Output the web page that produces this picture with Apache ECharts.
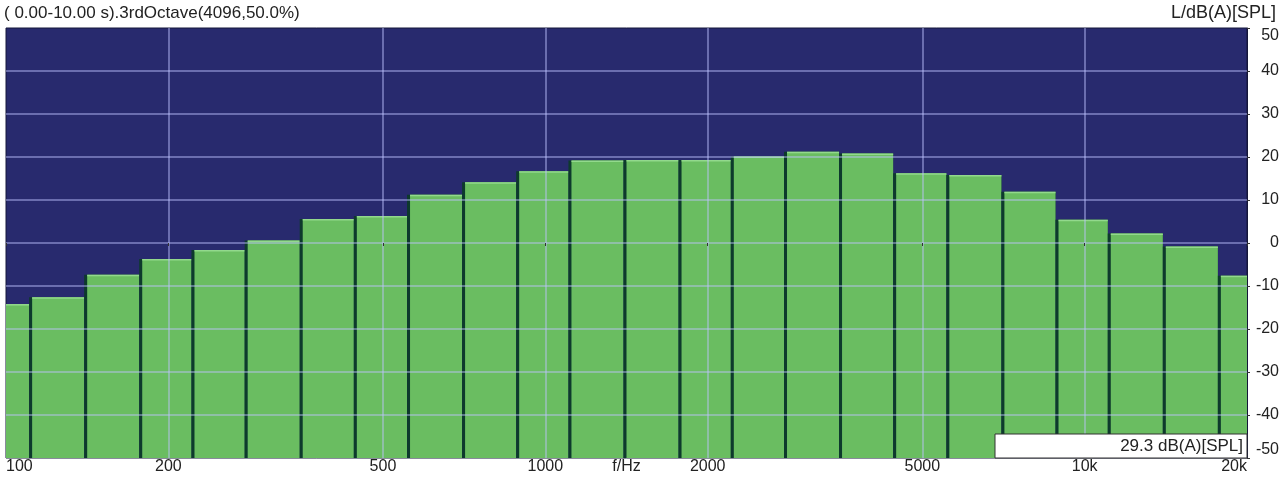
<!DOCTYPE html>
<html>
<head>
<meta charset="utf-8">
<script src="https://cdn.jsdelivr.net/npm/echarts@6/dist/echarts.min.js"></script>
<style>
html, body { margin: 0; padding: 0; background: #fff; }
#chart { width: 1280px; height: 479px; }
</style>
</head>
<body>
<div id="chart"></div>
<script>
// 1/3 octave band centre frequencies (Hz) and levels (dB(A))
const bandCenters = [100, 125, 160, 200, 250, 315, 400, 500, 630, 800, 1000, 1250,
    1600, 2000, 2500, 3150, 4000, 5000, 6300, 8000, 10000, 12500, 16000, 20000];
const bandLevels = [-14.2, -12.6, -7.4, -3.7, -1.6, 0.6, 5.6, 6.3, 11.2, 14.1, 16.7, 19.2,
    19.3, 19.3, 20.1, 21.2, 20.8, 16.2, 15.8, 11.9, 5.4, 2.2, -0.8, -7.6];
// frequency tick labels
const freqTicks = [100, 200, 500, 1000, 2000, 5000, 10000, 20000];
const freqTickLabels = ['100', '200', '500', '1000', '2000', '5000', '10k', '20k'];
const levelMin = -50;
const levelMax = 50;
const totalLevel = '29.3 dB(A)[SPL]';

// band edges = geometric mean of neighbouring centres
const rows = bandCenters.map((c, i) => {
    const lo = i > 0 ? Math.sqrt(bandCenters[i - 1] * c) : c / Math.sqrt(bandCenters[1] / c);
    const hi = i < bandCenters.length - 1 ? Math.sqrt(bandCenters[i + 1] * c) : c * Math.sqrt(c / bandCenters[i - 1]);
    return [Math.log10(lo), Math.log10(hi), bandLevels[i]];
});
const logTicks = freqTicks.map(f => Math.log10(f));

const chart = echarts.init(document.getElementById('chart'));
chart.setOption({
    animation: false,
    backgroundColor: '#fff',
    textStyle: { fontFamily: 'Liberation Sans, Arial, sans-serif' },
    title: [
        {
            text: '( 0.00-10.00 s).3rdOctave(4096,50.0%)',
            left: 4, top: 5, padding: 0,
            textStyle: { fontSize: 17, fontWeight: 'normal', color: '#222' }
        },
        {
            text: 'L/dB(A)[SPL]',
            right: 4, top: 4, padding: 0,
            textStyle: { fontSize: 18, fontWeight: 'normal', color: '#222' }
        }
    ],
    grid: {
        left: 6, right: 33, top: 28, bottom: 21,
        outerBoundsMode: 'none',
        containLabel: false,
        show: true,
        backgroundColor: '#282a6e',
        borderColor: '#15163a',
        borderWidth: 1
    },
    xAxis: {
        type: 'value',
        min: Math.log10(freqTicks[0]),
        max: Math.log10(freqTicks[freqTicks.length - 1]),
        z: 3,
        name: 'f/Hz',
        nameLocation: 'middle',
        nameGap: 1,
        nameMoveOverlap: false,
        nameTextStyle: { fontSize: 16, color: '#222', verticalAlign: 'top' },
        axisLine: { show: false },
        axisTick: {
            show: true, length: 3, customValues: logTicks,
            lineStyle: { color: '#333' }
        },
        axisLabel: {
            customValues: logTicks,
            fontSize: 16, color: '#222', margin: 1,
            alignMinLabel: 'left', alignMaxLabel: 'right',
            formatter: v => {
                const i = logTicks.findIndex(t => Math.abs(t - v) < 1e-6);
                return i >= 0 ? freqTickLabels[i] : '';
            }
        },
        splitLine: {
            show: true, showMinLine: false, showMaxLine: false,
            lineStyle: { color: 'rgba(190,195,255,0.6)', width: 1.5 }
        }
    },
    yAxis: {
        type: 'value',
        position: 'right',
        min: levelMin, max: levelMax, interval: 10,
        z: 3,
        axisLine: { show: true, lineStyle: { color: '#15163a' } },
        axisTick: { show: true, length: 3, lineStyle: { color: '#333' } },
        axisLabel: {
            fontSize: 16, color: '#222', align: 'right', margin: 32,
            verticalAlignMinLabel: 'bottom', verticalAlignMaxLabel: 'top'
        },
        splitLine: {
            show: true, showMinLine: false, showMaxLine: false,
            lineStyle: { color: 'rgba(190,195,255,0.6)', width: 1.5 }
        }
    },
    series: [{
        type: 'custom',
        z: 2,
        encode: { x: [0, 1], y: 2 },
        data: rows,
        renderItem: (params, api) => {
            const top = api.coord([api.value(0), api.value(2)]);
            const bot = api.coord([api.value(1), levelMin]);
            const cs = params.coordSys;
            const clip = s => echarts.graphic.clipRectByRect(s, cs);
            const dark = clip({ x: top[0] - 3, y: top[1], width: bot[0] - top[0], height: bot[1] - top[1] });
            const fill = clip({ x: top[0], y: top[1], width: bot[0] - top[0] - 3, height: bot[1] - top[1] });
            const edge = clip({ x: top[0], y: top[1], width: bot[0] - top[0] - 3, height: 1.5 });
            const children = [];
            if (dark) children.push({ type: 'rect', shape: dark, style: { fill: '#0d3a2c' } });
            if (fill) children.push({ type: 'rect', shape: fill, style: { fill: '#6abd61' } });
            if (edge) children.push({ type: 'rect', shape: edge, style: { fill: '#92d98c' } });
            return { type: 'group', children: children };
        }
    }],
    graphic: [
        {
            type: 'rect', z: 100,
            shape: { x: 995, y: 434, width: 252, height: 24 },
            style: { fill: '#fff', stroke: '#333', lineWidth: 1 }
        },
        {
            type: 'text', z: 101,
            x: 1243, y: 446,
            style: {
                text: totalLevel, fontSize: 17, fill: '#222',
                align: 'right', verticalAlign: 'middle',
                fontFamily: 'Liberation Sans, Arial, sans-serif'
            }
        }
    ]
});
</script>
</body>
</html>
